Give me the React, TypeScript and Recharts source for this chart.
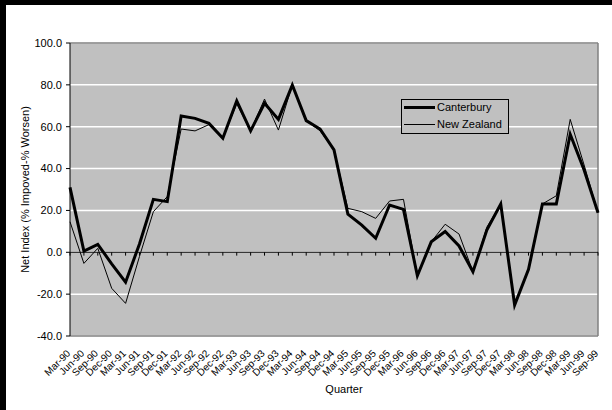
import React from 'react';
import { LineChart, Line, XAxis, YAxis, CartesianGrid, ReferenceLine } from 'recharts';

const quarters = [
  'Mar-90', 'Jun-90', 'Sep-90', 'Dec-90', 'Mar-91', 'Jun-91', 'Sep-91', 'Dec-91',
  'Mar-92', 'Jun-92', 'Sep-92', 'Dec-92', 'Mar-93', 'Jun-93', 'Sep-93', 'Dec-93',
  'Mar-94', 'Jun-94', 'Sep-94', 'Dec-94', 'Mar-95', 'Jun-95', 'Sep-95', 'Dec-95',
  'Mar-96', 'Jun-96', 'Sep-96', 'Dec-96', 'Mar-97', 'Jun-97', 'Sep-97', 'Dec-97',
  'Mar-98', 'Jun-98', 'Sep-98', 'Dec-98', 'Mar-99', 'Jun-99', 'Sep-99',
];

const canterbury = [
  31, 0.6, 3.8, -5.5, -14.3, 4, 25.3, 24.2,
  65.1, 64, 61.6, 54.5, 72.3, 58, 71.2, 63.5,
  79.9, 62.9, 58.9, 48.9, 18.2, 13, 6.7, 22.6,
  20.5, -11.2, 5, 9.9, 3, -9.3, 10.6, 23.1,
  -25.2, -8.1, 23.1, 23.1, 56.4, 39.3, 18.9,
];

const newZealand = [
  14.6, -5.3, 1.9, -17.2, -24.4, -2, 19.4, 26.6,
  58.9, 58, 61, 54.5, 71, 58, 73.2, 58.4,
  80, 62.9, 58, 48.9, 21, 19.4, 16.2, 24.5,
  25.3, -11.2, 5, 13.4, 8.7, -9.3, 12, 23.1,
  -25.2, -8.1, 23.1, 27, 63.5, 41.7, 18.9,
];

const yTicks = [-40, -20, 0, 20, 40, 60, 80, 100];

const seriesNames = ['Canterbury', 'New Zealand'];

const data = quarters.map((q, i) => ({
  quarter: q,
  canterbury: canterbury[i],
  newZealand: newZealand[i],
}));

const FONT = '"Liberation Sans", Arial, sans-serif';

const XTick = (props: any) => {
  const { x, y, payload } = props;
  const tx = x + 1;
  const ty = y + 18;
  return (
    <text
      x={tx}
      y={ty}
      transform={`rotate(-45, ${tx}, ${ty})`}
      textAnchor="end"
      fontSize={10}
      fontFamily={FONT}
      fill="#000"
    >
      {payload.value}
    </text>
  );
};

export default function App() {
  return (
    <div style={{ position: 'absolute', left: 0, top: 0, width: 612, height: 410, background: '#fff', fontFamily: FONT }}>
      <LineChart
        width={612}
        height={410}
        data={data}
        margin={{ top: 43, right: 14, bottom: 0, left: 0 }}
      >
        <CartesianGrid vertical={false} stroke="#ffffff" strokeWidth={1.5} fill="#C0C0C0" />
        <XAxis
          dataKey="quarter"
          interval={0}
          axisLine={false}
          tickLine={false}
          tickSize={0}
          tickMargin={0}
          height={74}
          tick={<XTick />}
          label={{ value: 'Quarter', position: 'insideBottom', offset: 17, dx: 10, fill: '#000', fontSize: 11, fontFamily: FONT }}
        />
        <YAxis
          domain={[-40, 100]}
          ticks={yTicks}
          width={70}
          allowDataOverflow
          tickFormatter={(v: number) => v.toFixed(1)}
          tick={{ fill: '#000', fontSize: 11, fontFamily: FONT }}
          tickSize={4}
          tickMargin={4}
          axisLine={{ stroke: '#000', strokeWidth: 1 }}
          tickLine={{ stroke: '#000' }}
          label={{
            value: 'Net Index (% Impoved-% Worsen)',
            angle: -90,
            position: 'insideLeft',
            offset: 25,
            style: { textAnchor: 'middle' },
            fill: '#000',
            fontSize: 11,
            fontFamily: FONT,
          }}
        />
        <ReferenceLine y={100} stroke="#808080" strokeWidth={1.5} />
        <ReferenceLine y={-40} stroke="#808080" strokeWidth={1.5} />
        <ReferenceLine x={quarters[quarters.length - 1]} stroke="#808080" strokeWidth={1.5} />
        <ReferenceLine y={0} stroke="#000" strokeWidth={1} />
        {quarters.map((q) => (
          <ReferenceLine
            key={q}
            segment={[{ x: q, y: 0 }, { x: q, y: -1.6 }]}
            stroke="#000"
            strokeWidth={1}
            ifOverflow="visible"
          />
        ))}
        <Line
          type="linear"
          dataKey="newZealand"
          name={seriesNames[1]}
          stroke="#000"
          strokeWidth={1}
          dot={false}
          isAnimationActive={false}
        />
        <Line
          type="linear"
          dataKey="canterbury"
          name={seriesNames[0]}
          stroke="#000"
          strokeWidth={3}
          dot={false}
          isAnimationActive={false}
        />
      </LineChart>
      <div
        style={{
          position: 'absolute',
          left: 401,
          top: 99,
          width: 106,
          height: 33,
          border: '1px solid #000',
          background: '#C0C0C0',
          fontSize: 11,
          color: '#000',
        }}
      >
        <div style={{ position: 'absolute', left: 2, top: 6, width: 31, height: 3, background: '#000' }} />
        <div style={{ position: 'absolute', left: 35, top: 0, lineHeight: '15px', whiteSpace: 'nowrap' }}>{seriesNames[0]}</div>
        <div style={{ position: 'absolute', left: 2, top: 24, width: 31, height: 1, background: '#000' }} />
        <div style={{ position: 'absolute', left: 35, top: 17, lineHeight: '15px', whiteSpace: 'nowrap' }}>{seriesNames[1]}</div>
      </div>
      <div style={{ position: 'absolute', left: 0, top: 0, width: 612, height: 5, background: '#000' }} />
      <div style={{ position: 'absolute', left: 0, top: 0, width: 6, height: 410, background: '#000' }} />
    </div>
  );
}
